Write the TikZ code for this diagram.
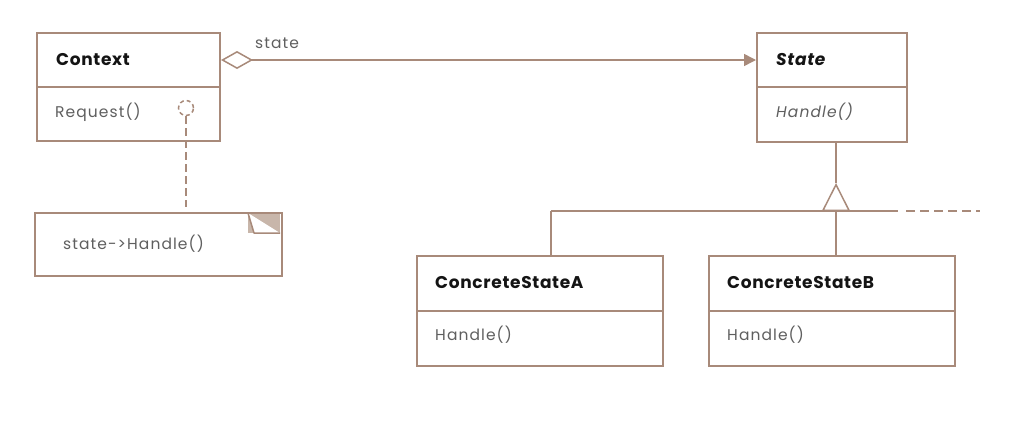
\documentclass[tikz,border=0pt]{standalone}
\usepackage{fontspec}
\setmainfont{Poppins}
\usetikzlibrary{arrows.meta}
\definecolor{lc}{RGB}{168,138,122}
\definecolor{foldc}{RGB}{200,182,170}
\definecolor{mc}{RGB}{95,95,95}
\definecolor{tc}{RGB}{20,20,20}
\tikzset{
  box/.style={draw=lc, line width=2pt, rectangle, inner sep=0pt, anchor=north west, fill=white},
  ttl/.style={anchor=west, inner sep=0pt, font=\fontsize{17}{18}\selectfont\addfontfeature{LetterSpace=4}\bfseries, text=tc},
  mth/.style={anchor=west, inner sep=0pt, font=\fontsize{15.5}{18}\selectfont\addfontfeature{LetterSpace=7}, text=mc},
  conn/.style={draw=lc, line width=1.5pt},
}
\begin{document}
\begin{tikzpicture}[x=1pt,y=-1pt]
\useasboundingbox (0,0) rectangle (1016,434);
% Context
\node[box, minimum width=183pt, minimum height=54pt] (ctxT) at (36,32) {};
\node[box, minimum width=183pt, minimum height=54pt] (ctxM) at (36,86) {};
\node[ttl] (ctxTt) at (56,60) {Context};
\node[mth] (ctxMt) at (55,112) {Request()};
\node[draw=lc, dashed, dash pattern=on 4pt off 3pt, line width=1.5pt, circle, minimum size=15pt, inner sep=0pt] (circ) at (186,108) {};
% State
\node[box, minimum width=150pt, minimum height=54pt] (stT) at (756,32) {};
\node[box, minimum width=150pt, minimum height=55pt] (stM) at (756,86) {};
\node[ttl, font=\fontsize{17}{18}\selectfont\addfontfeature{LetterSpace=4}\bfseries\itshape] (stTt) at (776,60) {State};
\node[mth, font=\fontsize{15.5}{18}\selectfont\addfontfeature{LetterSpace=7}\itshape] (stMt) at (776,112) {Handle()};
% ConcreteStateA
\node[box, minimum width=246pt, minimum height=55pt] (aT) at (416,255) {};
\node[box, minimum width=246pt, minimum height=55pt] (aM) at (416,310) {};
\node[ttl] (aTt) at (435,283) {ConcreteStateA};
\node[mth] (aMt) at (435,335) {Handle()};
% ConcreteStateB
\node[box, minimum width=246pt, minimum height=55pt] (bT) at (708,255) {};
\node[box, minimum width=246pt, minimum height=55pt] (bM) at (708,310) {};
\node[ttl] (bTt) at (727,283) {ConcreteStateB};
\node[mth] (bMt) at (727,335) {Handle()};
% Note
\node[box, draw=none, minimum width=245pt, minimum height=61pt] (note) at (35,213) {};
\fill[foldc] (248,213) rectangle (280,233);
\draw[draw=lc, line width=1.5pt, fill=white, line join=round] (248,213) -- (254,233) -- (280,233);
\draw[draw=lc, line width=1.8pt] (note.north west) rectangle (note.south east);
\node[mth] (notet) at (63,244) {state->Handle()};
\draw[conn, dash pattern=on 8pt off 4pt, shorten >=6pt] (circ.south) -- (circ.south |- note.north);
% Aggregation
\draw[conn, {Diamond[open, fill=white, length=32pt, width=18pt, line width=1.5pt]}-{Triangle[length=12pt, width=12pt]}] (ctxT.east) -- (stT.west);
\node[mth] (lbl) at (255,43) {state};
% Inheritance
\coordinate (j) at (836,211);
\coordinate (tip) at (836,183);
\coordinate (ja) at (551,211);
\coordinate (jr) at (898,211);
\coordinate (d1) at (906,211);
\coordinate (d2) at (980,211);
\draw[conn] (stM.south -| tip) -- (tip);
\draw[conn, -{Triangle[open, fill=white, length=28pt, width=28pt, line width=1.5pt]}] (j) -- (tip);
\draw[conn] (ja) -- (jr);
\draw[conn, dash pattern=on 9pt off 5pt] (d1) -- (d2);
\draw[conn] (ja) -- (ja |- aT.north);
\draw[conn] (j) -- (j |- bT.north);
\end{tikzpicture}
\end{document}
